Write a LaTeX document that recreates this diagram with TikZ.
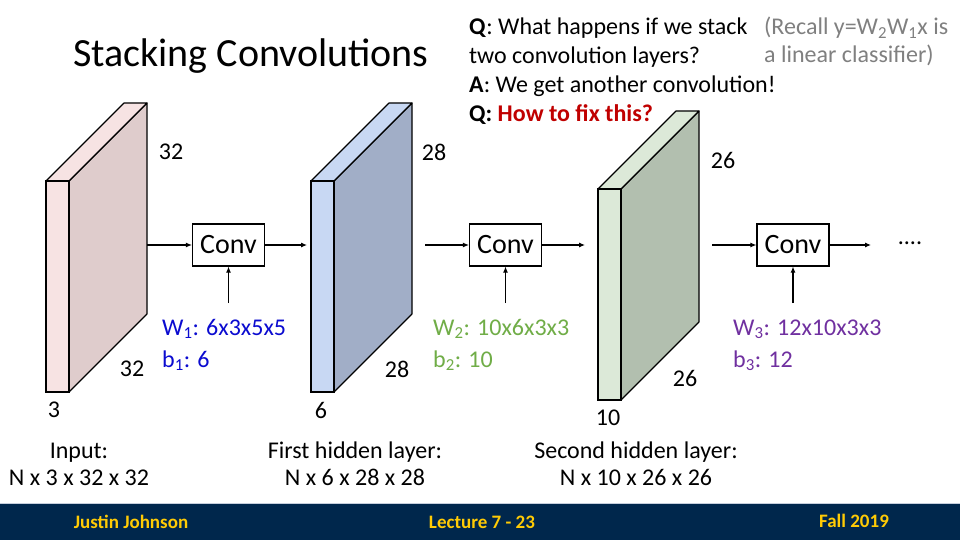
\documentclass[tikz,border=0pt]{standalone}
\usepackage{fontspec}
\setmainfont{Carlito}
\usepackage{xcolor}
\usetikzlibrary{arrows.meta}
\usetikzlibrary{positioning}
\definecolor{pinkFront}{HTML}{F7E3E3}
\definecolor{pinkSide}{HTML}{DFCCCC}
\definecolor{blueFront}{HTML}{C8D8F3}
\definecolor{blueSide}{HTML}{A1AEC7}
\definecolor{greenFront}{HTML}{DCE9D8}
\definecolor{greenSide}{HTML}{B2BFAF}
\definecolor{wBlue}{HTML}{0B0BD0}
\definecolor{wGreen}{HTML}{70AD47}
\definecolor{wPurple}{HTML}{7030A0}
\definecolor{fixRed}{HTML}{C00000}
\definecolor{recallGray}{HTML}{808080}
\definecolor{footBlue}{HTML}{00274C}
\definecolor{footLine}{HTML}{C5CEDC}
\definecolor{footGold}{HTML}{FFCB05}

\begin{document}
\begin{tikzpicture}[x=1pt, y=-1pt,
  conv/.style={draw, line width=1.1pt, minimum width=72pt, minimum height=42pt, inner sep=0pt, font=\fontsize{28}{32}\selectfont},
  flow/.style={line width=1.1pt, -{Latex[length=6pt,width=5pt]}},
  dim/.style={inner sep=0pt, font=\fontsize{24}{28}\selectfont},
  wlabel/.style={inner sep=0pt, anchor=base west, font=\fontsize{24}{28}\selectfont},
  caption/.style={inner sep=0pt, anchor=base, align=center, font=\fontsize{24}{27}\selectfont},
  foot/.style={inner sep=0pt, text=footGold, font=\fontsize{19}{22}\selectfont\bfseries}]

  \fill[white] (0,0) rectangle (960,540);
  \useasboundingbox (0,0) rectangle (960,540);

  % one layer: x, top y, front colour, side colour
  \newcommand{\layerslab}[4]{%
    \filldraw[fill=#4, line width=1.1pt, line join=round] (#1+23,#2) -- ++(78,-78) -- ++(0,211) -- ++(-78,78) -- cycle;
    \filldraw[fill=#3, line width=1.1pt, line join=round] (#1,#2) -- ++(78,-78) -- ++(23,0) -- ++(-78,78) -- cycle;
    \filldraw[fill=#3, line width=1.1pt] (#1,#2) rectangle ++(23,211);
  }

  % Title
  \node[inner sep=0pt, anchor=base west, font=\fontsize{40}{44}\selectfont] (title) at (73,67) {Stacking Convolutions};

  % Question text (base = last line)
  \node[inner sep=0pt, anchor=base west, align=left, font=\fontsize{24}{29}\selectfont] (question) at (469,122)
    {\textbf{Q}: What happens if we stack\\two convolution layers?\\\textbf{A}: We get another convolution!\\\textbf{Q: \textcolor{fixRed}{How to fix this?}}};
  \node[inner sep=0pt, anchor=base west, align=left, text=recallGray, font=\fontsize{24}{28}\selectfont] (recall) at (764,63)
    {(Recall y=W\textsubscript{2}W\textsubscript{1}x is\\a linear classifier)};

  % Layers
  \layerslab{46}{181}{pinkFront}{pinkSide}
  \layerslab{311}{181}{blueFront}{blueSide}
  \layerslab{598}{189}{greenFront}{greenSide}

  \node[dim] (in-h) at (171,152) {32};
  \node[dim] (in-w) at (132,369) {32};
  \node[dim] (in-c) at (54,410) {3};
  \node[dim] (h1-h) at (434,152) {28};
  \node[dim] (h1-w) at (397,369) {28};
  \node[dim] (h1-c) at (321,410) {6};
  \node[dim] (h2-h) at (723,160) {26};
  \node[dim] (h2-w) at (685,378) {26};
  \node[dim] (h2-c) at (608,418) {10};

  % Conv blocks
  \node[conv] (conv1) at (228.5,245) {Conv};
  \node[conv] (conv2) at (505.5,245) {Conv};
  \node[conv] (conv3) at (793,245) {Conv};
  \node[dim] (dots) at (910,243) {....};

  \coordinate (in1) at (147,245);
  \coordinate (out1) at (307,245);
  \coordinate (in2) at (425,245);
  \coordinate (out2) at (585,245);
  \coordinate (in3) at (712,245);
  \coordinate (out3) at (871,245);
  \coordinate (wt1) at (228.5,303);
  \coordinate (wt2) at (505.5,303);
  \coordinate (wt3) at (793,303);

  \draw[flow] (in1) -- (conv1);
  \draw[flow] (conv1) -- (out1);
  \draw[flow] (in2) -- (conv2);
  \draw[flow] (conv2) -- (out2);
  \draw[flow] (in3) -- (conv3);
  \draw[flow] (conv3) -- (out3);
  \draw[flow] (wt1) -- (conv1);
  \draw[flow] (wt2) -- (conv2);
  \draw[flow] (wt3) -- (conv3);

  % Weights
  \node[wlabel, text=wBlue] (w1) at (162,335) {W\textsubscript{1}: 6x3x5x5};
  \node[wlabel, text=wBlue] (b1) at (162,367) {b\textsubscript{1}: 6};
  \node[wlabel, text=wGreen] (w2) at (433,335) {W\textsubscript{2}: 10x6x3x3};
  \node[wlabel, text=wGreen] (b2) at (433,367) {b\textsubscript{2}: 10};
  \node[wlabel, text=wPurple] (w3) at (733,335) {W\textsubscript{3}: 12x10x3x3};
  \node[wlabel, text=wPurple] (b3) at (733,367) {b\textsubscript{3}: 12};

  % Captions (base = second line)
  \node[caption] (cap-in) at (79,485) {Input:\\N x 3 x 32 x 32};
  \node[caption] (cap-h1) at (355,485) {First hidden layer:\\N x 6 x 28 x 28};
  \node[caption] (cap-h2) at (636,485) {Second hidden layer:\\N x 10 x 26 x 26};

  % Footer
  \fill[footBlue] (0,503) rectangle (960,540);
  \draw[footLine, line width=1pt] (0,503) -- (960,503);
  \node[foot] (author) at (131,522) {Justin Johnson};
  \node[foot] (lecture) at (482,522) {Lecture 7 - 23};
  \node[foot] (term) at (854,521) {Fall 2019};

\end{tikzpicture}
\end{document}
